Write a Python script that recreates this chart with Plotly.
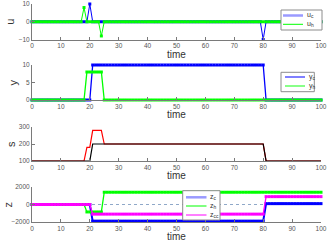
import plotly.graph_objects as go

# ---- data ----
time = list(range(0, 101))
u_c = [0]*20 + [10] + [0]*59 + [-10] + [0]*20
u_h = [0]*18 + [8] + [0]*5 + [-8] + [0]*76
y_c = [0]*21 + [10]*60 + [0]*20
y_h = [0]*19 + [8]*6 + [0]*76
s_c = [100]*21 + [200]*60 + [100]*20
s_h = [100]*19 + [180]*2 + [280]*4 + [200]*56 + [100]*20
z_c = [0]*21 + [-1900]*60 + [100]*20
z_h = [0]*19 + [-850]*6 + [1400]*76
z_cc = [0]*21 + [-1100]*60 + [900]*20
z_ref_t = [0, 100]
z_ref = [0, 0]

x_ticks = [0, 10, 20, 30, 40, 50, 60, 70, 80, 90, 100]
u_ticks = [-10, 0, 10]
y_ticks = [0, 5, 10]
s_ticks = [100, 200, 300]
z_ticks = [-2000, 0, 2000]

BLUE = "#0000ff"
GREEN = "#00ff00"
MAGENTA = "#ff00ff"
RED = "#ff0000"
BLACK = "#000000"
LIGHTBLUE = "#9a9aff"
LIGHTGREEN = "#88ff88"

W, H = 327, 244
FONT = "Liberation Sans"
TXT = "#333333"
AX = "#7a7a7a"

fig = go.Figure()


def line_trace(x, y, color, ax, width=1.3, markers=True, msize=3):
    return go.Scatter(
        x=x, y=y, xaxis="x" + ax, yaxis="y" + ax,
        mode="lines+markers" if markers else "lines",
        line=dict(color=color, width=width),
        marker=dict(color=color, size=msize, symbol="square"),
        showlegend=False, hoverinfo="skip", cliponaxis=False,
    )


# subplot 1: u
fig.add_trace(line_trace(time, u_c, BLUE, "", width=1.0))
fig.add_trace(line_trace(time, u_h, GREEN, "", width=1.0))
# subplot 2: y
fig.add_trace(line_trace(time, y_c, BLUE, "2", width=1.3))
fig.add_trace(line_trace(time, y_h, GREEN, "2", width=1.3))
# subplot 3: s
fig.add_trace(line_trace(time, s_h, RED, "3", width=1.2, markers=False))
fig.add_trace(line_trace(time, s_c, BLACK, "3", width=1.2, markers=False))
# subplot 4: z
fig.add_trace(go.Scatter(x=z_ref_t, y=z_ref, xaxis="x4", yaxis="y4", mode="lines",
                         line=dict(color="#8fa8c8", width=1, dash="dot"),
                         showlegend=False, hoverinfo="skip"))
fig.add_trace(line_trace(time, z_c, BLUE, "4", width=2.0))
fig.add_trace(line_trace(time, z_h, GREEN, "4", width=1.3))
fig.add_trace(line_trace(time, z_cc, MAGENTA, "4", width=1.3))

x_dom = [32 / W, 321 / W]


def ydom(top_px, bot_px):
    return [1 - bot_px / H, 1 - top_px / H]


axis_common = dict(
    showline=True, linecolor=AX, linewidth=1, mirror=False,
    ticks="inside", ticklen=3, tickcolor=AX, showgrid=False,
    zeroline=False, tickfont=dict(size=6.5, color="#555555", family=FONT),
    automargin=False, ticklabeloverflow="allow",
)

lay = dict(
    width=W, height=H, margin=dict(l=0, r=0, t=0, b=0),
    paper_bgcolor="white", plot_bgcolor="white",
    font=dict(family=FONT, color=TXT), showlegend=False,
)

tops = {"": (4, 39.5), "2": (65, 100), "3": (127, 161), "4": (187, 222)}
doms = {k: ydom(*v) for k, v in tops.items()}
ranges = {"": ([-10, 10], u_ticks), "2": ([0, 10], y_ticks),
          "3": ([100, 300], s_ticks), "4": ([-2000, 2000], z_ticks)}

for k in ["", "2", "3", "4"]:
    lay["xaxis" + k] = dict(axis_common, domain=x_dom, range=[0, 100], tickvals=x_ticks,
                            anchor="y" + k)
    r, tv = ranges[k]
    lay["yaxis" + k] = dict(axis_common, domain=doms[k], range=r, tickvals=tv,
                            anchor="x" + k)

ann = []
shapes = []
xc = (32 + 321) / 2 / W
for k, lbl, xpx in [("", "u", 10), ("2", "y", 12), ("3", "s", 11), ("4", "z", 7)]:
    d = doms[k]
    ann.append(dict(text=lbl, x=xpx / W, y=(d[0] + d[1]) / 2, xref="paper", yref="paper",
                    showarrow=False, textangle=-90, font=dict(size=11, family=FONT, color=TXT),
                    xanchor="center", yanchor="middle"))
    bot = tops[k][1]
    ann.append(dict(text="time", x=xc, y=1 - (bot + 14.5) / H, xref="paper", yref="paper",
                    showarrow=False, font=dict(size=10, family=FONT, color=TXT),
                    xanchor="center", yanchor="middle"))


def px_x(v):
    return v / W


def px_y(v):
    return 1 - v / H


def legend_box(x0, y0, x1, y1, entries, lx0, lx1, tx):
    shapes.append(dict(type="rect", xref="paper", yref="paper",
                       x0=px_x(x0), x1=px_x(x1), y0=px_y(y0), y1=px_y(y1),
                       fillcolor="white", line=dict(color="#8c8c8c", width=1), layer="above"))
    for ypx, color, width, text in entries:
        shapes.append(dict(type="line", xref="paper", yref="paper",
                           x0=px_x(lx0), x1=px_x(lx1), y0=px_y(ypx), y1=px_y(ypx),
                           line=dict(color=color, width=width), layer="above"))
        ann.append(dict(text=text, x=px_x(tx), y=px_y(ypx), xref="paper", yref="paper",
                        showarrow=False, xanchor="left", yanchor="middle",
                        font=dict(size=7, family=FONT, color=TXT)))


legend_box(281, 10, 322, 30,
           [(15.5, LIGHTBLUE, 2.5, "u<sub>c</sub>"), (24.3, GREEN, 1.0, "u<sub>h</sub>")],
           283, 303, 305)
legend_box(281, 72.3, 314.3, 91.7,
           [(77, BLUE, 1.0, "y<sub>c</sub>"), (86, LIGHTGREEN, 2.0, "y<sub>h</sub>")],
           285, 305, 306.5)
legend_box(182.7, 190.7, 220, 220,
           [(197.3, LIGHTBLUE, 2.5, "z<sub>c</sub>"), (206, GREEN, 1.0, "z<sub>h</sub>"),
            (215, MAGENTA, 1.0, "z<sub>cc</sub>")],
           186, 206.5, 208)

lay["annotations"] = ann
lay["shapes"] = shapes

fig.update_layout(**lay)
fig.write_html("out.html", config={"displayModeBar": False, "staticPlot": True},
               post_script="document.body.style.margin='0';document.body.style.overflow='hidden';")
